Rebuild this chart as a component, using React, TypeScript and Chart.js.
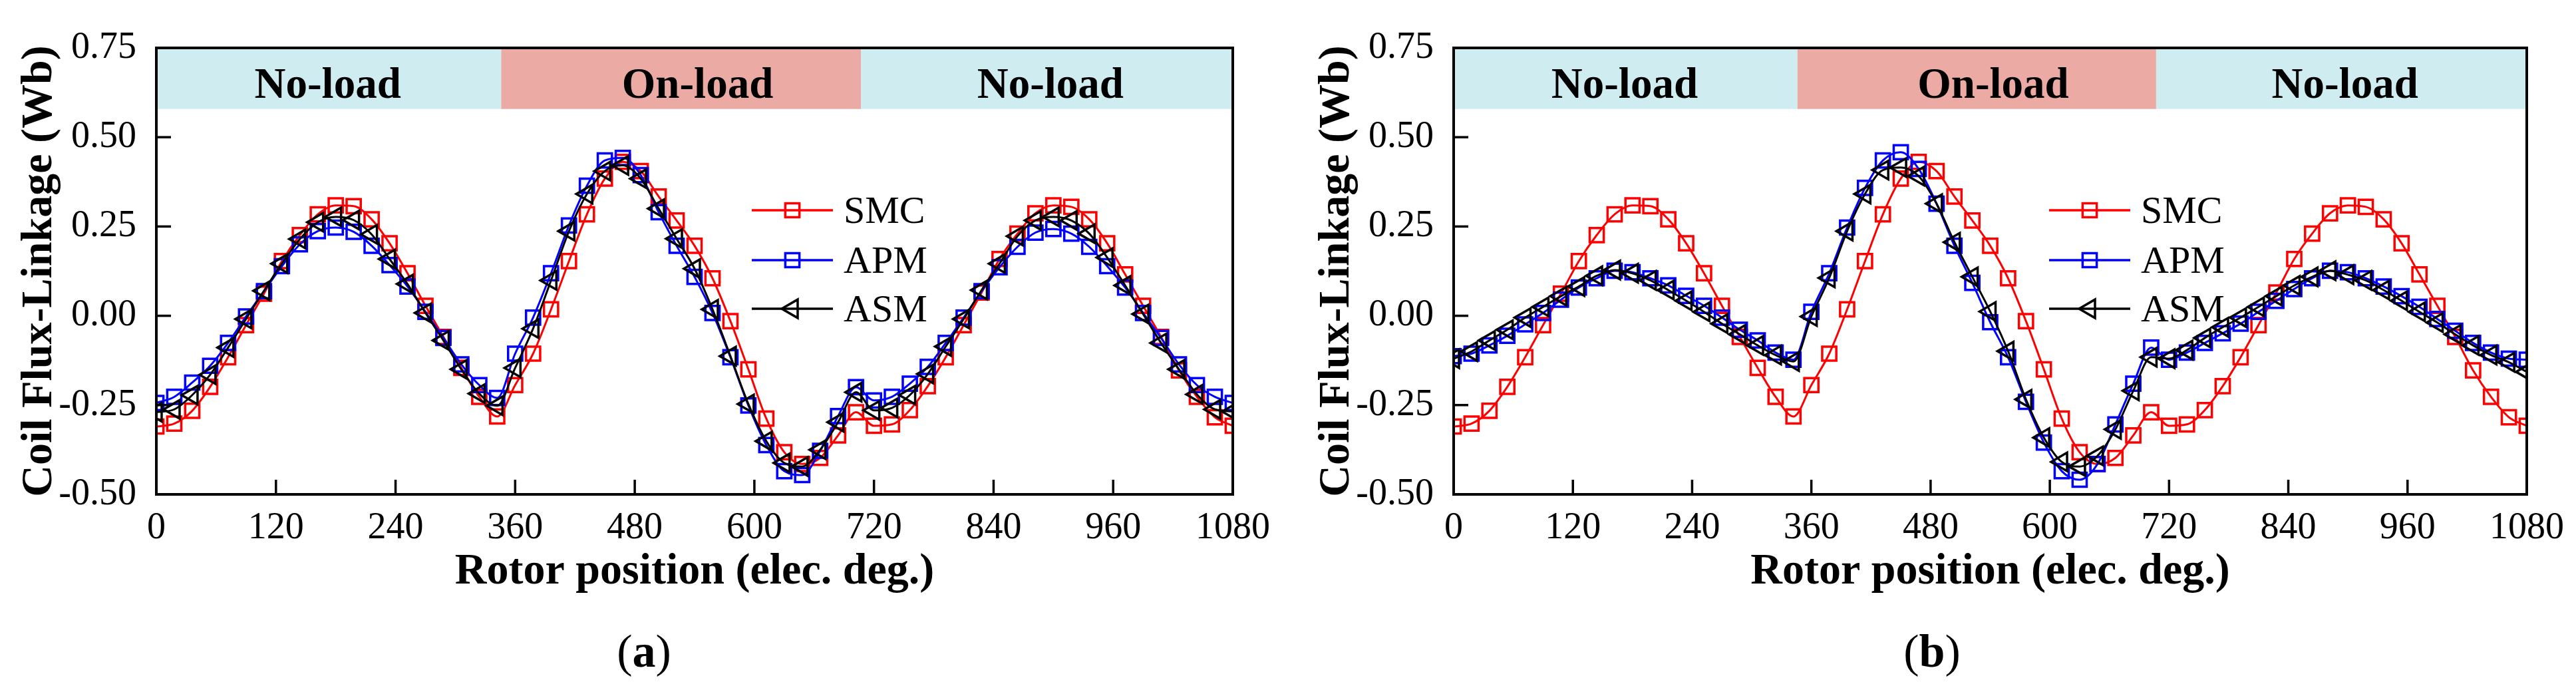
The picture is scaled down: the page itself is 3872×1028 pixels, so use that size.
import { useEffect, useRef } from "react";
import { Chart, registerables } from "chart.js";

Chart.register(...registerables);

// rotor position of every marker (elec. deg.)
const angles = [
  0, 18, 36, 54, 72, 90, 108, 126, 144, 162,
  180, 198, 216, 234, 252, 270, 288, 306, 324, 342,
  360, 378, 396, 414, 432, 450, 468, 486, 504, 522,
  540, 558, 576, 594, 612, 630, 648, 666, 684, 702,
  720, 738, 756, 774, 792, 810, 828, 846, 864, 882,
  900, 918, 936, 954, 972, 990, 1008, 1026, 1044, 1062,
  1080,
];

// SMC is the same curve in both panels
const smcFlux = [
  -0.31, -0.302, -0.266, -0.199, -0.116, -0.026, 0.062, 0.153, 0.226, 0.284,
  0.309, 0.307, 0.27, 0.203, 0.119, 0.028, -0.059, -0.146, -0.227, -0.282,
  -0.194, -0.106, 0.018, 0.153, 0.284, 0.384, 0.431, 0.405, 0.334, 0.267,
  0.196, 0.105, -0.015, -0.15, -0.288, -0.382, -0.415, -0.398, -0.335, -0.27,
  -0.308, -0.304, -0.264, -0.197, -0.116, -0.026, 0.065, 0.159, 0.23, 0.287,
  0.309, 0.305, 0.27, 0.203, 0.116, 0.028, -0.059, -0.153, -0.227, -0.284,
  -0.308,
];

// panel (a)
const apmFluxA = [
  -0.244, -0.227, -0.187, -0.14, -0.076, -0.002, 0.069, 0.139, 0.2, 0.237,
  0.247, 0.235, 0.196, 0.142, 0.082, 0.011, -0.062, -0.136, -0.194, -0.23,
  -0.106, -0.005, 0.119, 0.253, 0.364, 0.435, 0.442, 0.394, 0.29, 0.196,
  0.109, 0.008, -0.116, -0.251, -0.362, -0.435, -0.446, -0.378, -0.281, -0.2,
  -0.237, -0.227, -0.19, -0.143, -0.076, -0.005, 0.069, 0.136, 0.193, 0.233,
  0.243, 0.23, 0.193, 0.139, 0.079, 0.008, -0.062, -0.136, -0.194, -0.227,
  -0.244,
];
const asmFluxA = [
  -0.27, -0.262, -0.222, -0.165, -0.089, -0.009, 0.07, 0.146, 0.215, 0.262,
  0.277, 0.268, 0.228, 0.159, 0.089, 0.008, -0.069, -0.15, -0.218, -0.252,
  -0.146, -0.036, 0.099, 0.237, 0.341, 0.405, 0.421, 0.384, 0.3, 0.216,
  0.132, 0.018, -0.113, -0.247, -0.351, -0.412, -0.422, -0.375, -0.298, -0.214,
  -0.265, -0.258, -0.222, -0.163, -0.086, -0.009, 0.072, 0.146, 0.223, 0.267,
  0.277, 0.267, 0.23, 0.163, 0.085, 0.005, -0.076, -0.15, -0.22, -0.262,
  -0.268,
];

// panel (b)
const apmFluxB = [
  -0.113, -0.106, -0.083, -0.056, -0.024, 0.008, 0.045, 0.079, 0.105, 0.126,
  0.122, 0.105, 0.085, 0.056, 0.028, -0.005, -0.039, -0.069, -0.103, -0.123,
  0.011, 0.119, 0.247, 0.358, 0.435, 0.458, 0.411, 0.314, 0.196, 0.092,
  -0.018, -0.116, -0.241, -0.355, -0.435, -0.459, -0.415, -0.304, -0.19, -0.089,
  -0.123, -0.103, -0.076, -0.049, -0.022, 0.011, 0.042, 0.075, 0.105, 0.126,
  0.122, 0.105, 0.082, 0.055, 0.025, -0.009, -0.042, -0.076, -0.103, -0.12,
  -0.123,
];
const asmFluxB = [
  -0.12, -0.1, -0.069, -0.039, -0.005, 0.025, 0.055, 0.082, 0.112, 0.128,
  0.119, 0.099, 0.072, 0.042, 0.011, -0.022, -0.052, -0.083, -0.11, -0.128,
  -0.002, 0.106, 0.237, 0.341, 0.408, 0.415, 0.391, 0.314, 0.206, 0.109,
  0.012, -0.099, -0.234, -0.341, -0.409, -0.422, -0.392, -0.318, -0.21, -0.116,
  -0.12, -0.096, -0.062, -0.032, -0.005, 0.025, 0.055, 0.085, 0.109, 0.126,
  0.115, 0.099, 0.072, 0.042, 0.011, -0.019, -0.052, -0.083, -0.11, -0.13,
  -0.157,
];

// load-state strip along the top
const bandEdges = [0, 346, 707, 1080];
const bandNames = ["No-load", "On-load", "No-load"];
const bandNameX = [172, 543, 897];
const bandColors = ["#cfecf1", "#ebaba4", "#cfecf1"];
const bandBottom = 0.579;
const bandTextY = 0.61;

const seriesNames = ["SMC", "APM", "ASM"];

const SERIF = "'Liberation Serif', 'Times New Roman', Times, serif";
const W = 1936;
const H = 1028;
const TOP = 72;
const BOTTOM = 743;
const PAD_BOTTOM = 128;

const bandPlugin = {
  id: "loadBand",
  beforeDatasetsDraw(chart: any) {
    const { ctx, scales } = chart;
    const x = scales.x;
    const y = scales.y;
    const yTop = y.getPixelForValue(0.75);
    const yBot = y.getPixelForValue(bandBottom);
    ctx.save();
    for (let i = 0; i < bandNames.length; i++) {
      const x0 = x.getPixelForValue(bandEdges[i]);
      const x1 = x.getPixelForValue(bandEdges[i + 1]);
      ctx.fillStyle = bandColors[i];
      ctx.fillRect(x0, yTop, x1 - x0, yBot - yTop);
    }
    ctx.fillStyle = "#000";
    ctx.font = `bold 65px ${SERIF}`;
    ctx.textAlign = "center";
    ctx.textBaseline = "alphabetic";
    for (let i = 0; i < bandNames.length; i++) {
      ctx.fillText(bandNames[i], x.getPixelForValue(bandNameX[i]), y.getPixelForValue(bandTextY));
    }
    ctx.restore();
  },
};

const framePlugin = {
  id: "frame",
  afterDatasetsDraw(chart: any) {
    const { ctx, chartArea, scales } = chart;
    const { left, right, top, bottom } = chartArea;
    ctx.save();
    ctx.strokeStyle = "#000";
    ctx.lineWidth = 3.5;
    // inward tick marks on the left and bottom axes
    scales.x.ticks.forEach((t: any) => {
      const px = scales.x.getPixelForValue(t.value);
      ctx.beginPath();
      ctx.moveTo(px, bottom);
      ctx.lineTo(px, bottom - 22);
      ctx.stroke();
    });
    scales.y.ticks.forEach((t: any) => {
      const py = scales.y.getPixelForValue(t.value);
      ctx.beginPath();
      ctx.moveTo(left, py);
      ctx.lineTo(left + 22, py);
      ctx.stroke();
    });
    ctx.lineWidth = 4;
    ctx.strokeRect(left, top, right - left, bottom - top);
    ctx.restore();
  },
};

function drawMarker(ctx: CanvasRenderingContext2D, ds: any, x: number, y: number) {
  const r = ds.pointRadius;
  ctx.beginPath();
  if (ds.pointStyle === "triangle") {
    ctx.moveTo(x - r, y);
    ctx.lineTo(x + 0.5 * r, y - 0.866 * r);
    ctx.lineTo(x + 0.5 * r, y + 0.866 * r);
    ctx.closePath();
  } else {
    const h = r * Math.SQRT1_2;
    ctx.rect(x - h, y - h, 2 * h, 2 * h);
  }
  ctx.stroke();
}

const legendPlugin = {
  id: "lineLegend",
  afterDraw(chart: any) {
    const { ctx, chartArea } = chart;
    const rows = [244, 319, 392];
    ctx.save();
    chart.data.datasets.forEach((ds: any, i: number) => {
      const y = chartArea.top + rows[i];
      const x0 = chartArea.left + 895;
      const x1 = chartArea.left + 1017;
      ctx.strokeStyle = ds.borderColor;
      ctx.lineWidth = 3.5;
      ctx.beginPath();
      ctx.moveTo(x0, y);
      ctx.lineTo(x1, y);
      ctx.stroke();
      drawMarker(ctx, ds, (x0 + x1) / 2, y);
      ctx.fillStyle = "#000";
      ctx.font = `58px ${SERIF}`;
      ctx.textAlign = "left";
      ctx.textBaseline = "alphabetic";
      ctx.fillText(ds.label, chartArea.left + 1033, y + 19);
    });
    ctx.restore();
  },
};

function FluxPanel({
  apm,
  asm,
  left,
  right,
  tag,
}: {
  apm: number[];
  asm: number[];
  left: number;
  right: number;
  tag: string;
}) {
  const canvasRef = useRef<HTMLCanvasElement>(null);

  useEffect(() => {
    if (!canvasRef.current) return;
    const toPoints = (vals: number[]) => angles.map((a, i) => ({ x: a, y: vals[i] }));
    const common = {
      borderWidth: 3,
      pointBorderWidth: 3.5,
      pointBackgroundColor: "rgba(0,0,0,0)",
      cubicInterpolationMode: "monotone" as const,
      fill: false,
    };

    const chart = new Chart(canvasRef.current, {
      type: "line",
      data: {
        datasets: [
          {
            ...common,
            label: seriesNames[0],
            data: toPoints(smcFlux),
            borderColor: "#ff0000",
            pointBorderColor: "#ff0000",
            pointStyle: "rect",
            pointRadius: 15,
            order: 3,
          },
          {
            ...common,
            label: seriesNames[1],
            data: toPoints(apm),
            borderColor: "#0000ff",
            pointBorderColor: "#0000ff",
            pointStyle: "rect",
            pointRadius: 15,
            order: 2,
          },
          {
            ...common,
            label: seriesNames[2],
            data: toPoints(asm),
            borderColor: "#000000",
            pointBorderColor: "#000000",
            pointStyle: "triangle",
            pointRotation: -90,
            pointRadius: 16,
            order: 1,
          },
        ],
      },
      options: {
        responsive: false,
        animation: false,
        events: [],
        layout: { padding: { left: 0, top: TOP, right: W - right, bottom: PAD_BOTTOM } },
        plugins: { legend: { display: false }, tooltip: { enabled: false } },
        scales: {
          x: {
            type: "linear",
            min: 0,
            max: 1080,
            ticks: {
              stepSize: 120,
              padding: 18,
              color: "#000",
              maxRotation: 0,
              autoSkip: false,
              font: { family: SERIF, size: 56 },
              callback: (v: any) => String(v),
            },
            grid: { display: false, drawTicks: false },
            border: { display: false },
            title: {
              display: true,
              text: "Rotor position (elec. deg.)",
              color: "#000",
              font: { family: SERIF, size: 66, weight: "bold" },
              padding: { top: 0, bottom: 0 },
            },
            afterFit: (scale: any) => {
              scale.height = H - BOTTOM - PAD_BOTTOM;
            },
          },
          y: {
            min: -0.5,
            max: 0.75,
            ticks: {
              stepSize: 0.25,
              padding: 30,
              color: "#000",
              font: { family: SERIF, size: 56 },
              callback: (v: any) => Number(v).toFixed(2),
            },
            grid: { display: false, drawTicks: false },
            border: { display: false },
            title: {
              display: true,
              text: "Coil Flux-Linkage (Wb)",
              color: "#000",
              font: { family: SERIF, size: 66, weight: "bold" },
              padding: { top: left - 175 - 39.6, bottom: 0 },
            },
            afterFit: (scale: any) => {
              scale.width = left;
            },
          },
        },
      },
      plugins: [bandPlugin, framePlugin, legendPlugin],
    } as any);

    return () => {
      chart.destroy();
    };
  }, [apm, asm, left, right]);

  return (
    <div style={{ position: "relative", width: W, height: H, flex: "0 0 auto" }}>
      <canvas ref={canvasRef} width={W} height={H} style={{ width: W, height: H, display: "block" }} />
      <div
        style={{
          position: "absolute",
          left: 0,
          top: 944,
          width: W,
          textAlign: "center",
          fontFamily: SERIF,
          fontSize: 70,
          lineHeight: "70px",
          color: "#000",
        }}
      >
        (<b>{tag}</b>)
      </div>
    </div>
  );
}

export default function App() {
  useEffect(() => {
    document.body.style.margin = "0";
    document.body.style.background = "#fff";
  }, []);

  return (
    <div style={{ display: "flex", width: W * 2, height: H, background: "#fff" }}>
      <FluxPanel apm={apmFluxA} asm={asmFluxA} left={235} right={1853} tag="a" />
      <FluxPanel apm={apmFluxB} asm={asmFluxB} left={249} right={1863} tag="b" />
    </div>
  );
}
